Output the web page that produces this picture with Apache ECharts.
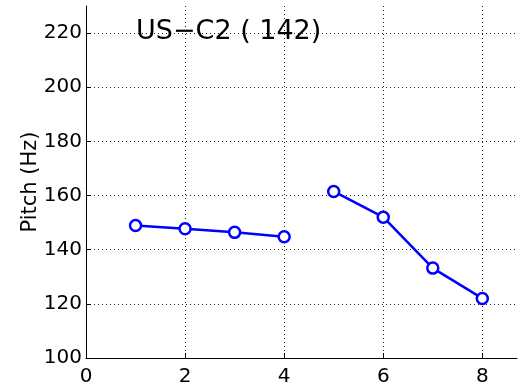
<!DOCTYPE html>
<html>
<head>
<meta charset="utf-8">
<script src="https://cdn.jsdelivr.net/npm/echarts@6/dist/echarts.min.js"></script>
<style>html,body{margin:0;padding:0;background:#fff}#c{width:518px;height:387px}</style>
</head>
<body>
<div id="c"></div>
<script>
var xValues = [1, 2, 3, 4, 5, 6, 7, 8];
var seg1 = [148.9, 147.7, 146.4, 144.8, null, null, null, null];
var seg2 = [null, null, null, null, 161.5, 152.0, 133.2, 122.0];
var titleText = 'US\u2212C2 ( 142)';
var yName = 'Pitch (Hz)';

function pairs(vals) {
  return xValues.map(function (x, i) { return [x, vals[i]]; }).filter(function (p) { return p[1] !== null; });
}

var chart = echarts.init(document.getElementById('c'), null, {renderer: 'canvas'});
var font = 'DejaVu Sans';
var gridLine = {show: true, showMinLine: false, showMaxLine: false, lineStyle: {color: '#222', type: [1, 3], width: 1}};
function mkSeries(vals) {
  return {
    type: 'line', data: pairs(vals), symbol: 'circle', symbolSize: 11,
    lineStyle: {color: '#0000ff', width: 2.5},
    itemStyle: {color: '#ffffff', borderColor: '#0000ff', borderWidth: 2.5},
    z: 5, animation: false
  };
}
chart.setOption({
  animation: false,
  grid: {left: 86, right: 1, top: 6, bottom: 29, containLabel: false},
  xAxis: {
    type: 'value', min: 0, max: 8.7, interval: 2,
    axisLine: {show: true, onZero: false, lineStyle: {color: '#000', width: 1}},
    axisTick: {show: true, inside: true, length: 5, lineStyle: {color: '#000'}},
    axisLabel: {color: '#000', fontFamily: font, fontSize: 20, margin: 9, showMaxLabel: false},
    splitLine: gridLine
  },
  yAxis: {
    type: 'value', min: 100, max: 230, interval: 20,
    name: yName, nameLocation: 'middle', nameGap: 45, nameRotate: 90, nameMoveOverlap: false,
    nameTextStyle: {color: '#000', fontFamily: font, fontSize: 21},
    axisLine: {show: true, onZero: false, lineStyle: {color: '#000', width: 1}},
    axisTick: {show: true, inside: true, length: 5, lineStyle: {color: '#000'}},
    axisLabel: {color: '#000', fontFamily: font, fontSize: 20, margin: 4, showMaxLabel: false},
    splitLine: gridLine
  },
  graphic: [{
    type: 'text', left: 136, top: 18, z: 10,
    style: {text: titleText, fill: '#000', font: '27px "DejaVu Sans"'}
  }],
  series: [mkSeries(seg1), mkSeries(seg2)]
});
</script>
</body>
</html>
